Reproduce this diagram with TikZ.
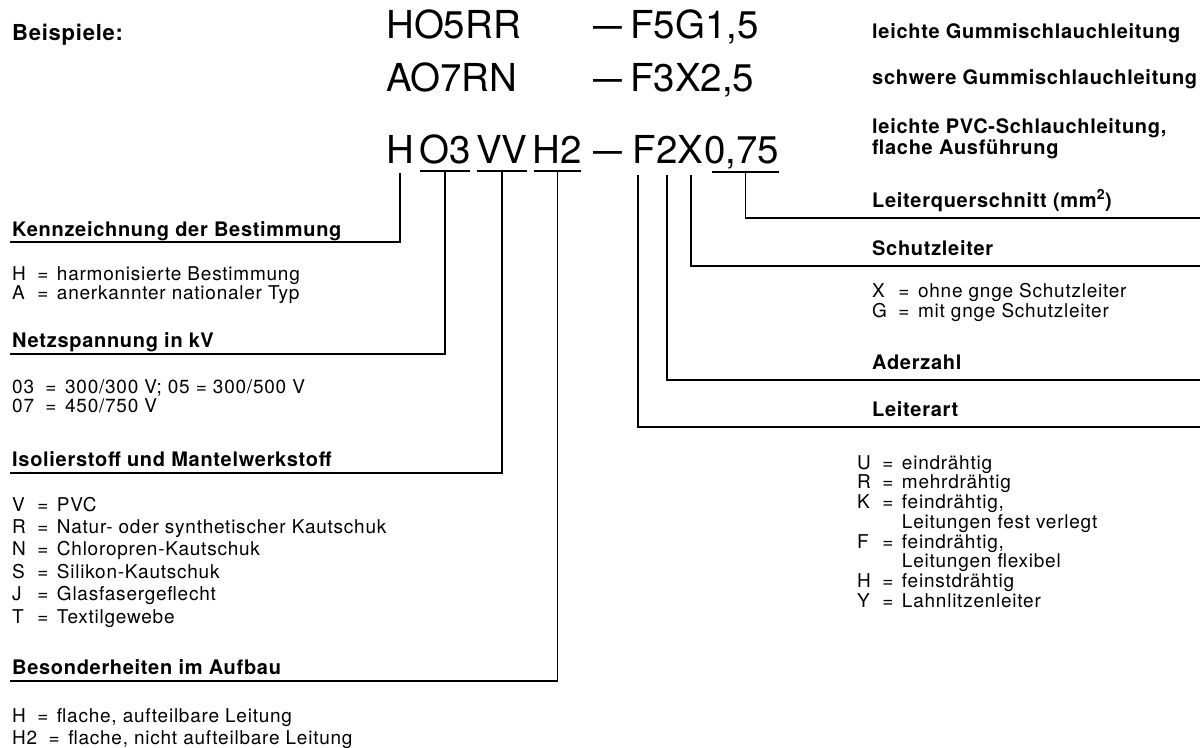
\documentclass[tikz,border=0pt]{standalone}
\usepackage{fontspec}
\usepackage{graphicx}
\setmainfont{TeX Gyre Heros}
\newfontfamily\bodyf[LetterSpace=4]{TeX Gyre Heros}
\newfontfamily\codef{TeX Gyre Heros}
\newfontfamily\headf[LetterSpace=3.5]{TeX Gyre Heros}
\newcommand\dashc{\scalebox{1.35}[1]{\textendash}}
\newcommand\elist[1]{\begin{tabular}[t]{@{}l@{\hspace{0.6em}}l@{\hspace{0.45em}}l@{}}#1\end{tabular}}
\tikzset{
  code/.style={font=\codef\fontsize{38.5}{40}\selectfont, inner sep=0pt, anchor=base west},
  head/.style={font=\headf\bfseries\fontsize{20}{24}\selectfont, inner sep=0pt, anchor=base west},
  title/.style={font=\headf\bfseries\fontsize{22}{26}\selectfont, inner sep=0pt, anchor=base west},
  body/.style={font=\bodyf\fontsize{19}{#1}\selectfont, inner sep=0pt, anchor=base west},
  body/.default=19.6,
  lead/.style={line width=1.8pt, line cap=butt, line join=miter}
}
\begin{document}
\begin{tikzpicture}[x=1pt,y=-1pt]
\useasboundingbox (0,0) rectangle (1204,747);
% examples
\node[title] (beisp) at (12,40) {Beispiele:};
\node[code] (r1a) at (386,38) {HO5RR};
\node[code] (r1d) at (593,38) {\dashc};
\node[code] (r1b) at (630,38) {F5G1,5};
\node[code] (r2a) at (386,91) {AO7RN};
\node[code] (r2d) at (593,91) {\dashc};
\node[code] (r2b) at (630,91) {F3X2,5};
\node[code] (cH) at (386,163) {H};
\node[code] (cO) at ([xshift=5pt]cH.base east) {O3};
\node[code] (cV) at ([xshift=5pt]cO.base east) {VV};
\node[code] (cHz) at ([xshift=5pt]cV.base east) {H2};
\node[code] (c3d) at (593,163) {\dashc};
\node[code] (cF) at (632,163) {F};
\node[code] (cZ) at (cF.base east) {2};
\node[code] (cX) at (cZ.base east) {X};
\node[code] (cN) at (cX.base east) {0,75};
% descriptions right
\node[head] (d1) at (872,38) {leichte Gummischlauchleitung};
\node[head] (d2) at (872,84) {schwere Gummischlauchleitung};
\node[head] (d3) at (872,133) {leichte PVC-Schlauchleitung,};
\node[head] (d3b) at (872,154) {flache Ausführung};
\node[head] (hq) at (872,207) {Leiterquerschnitt (mm\textsuperscript{2})};
\node[head] (hs) at (872,255) {Schutzleiter};
\node[body] (ls) at (872,297) {\elist{X & = & ohne gnge Schutzleiter\\ G & = & mit gnge Schutzleiter}};
\node[head] (ha) at (872,369) {Aderzahl};
\node[head] (hl) at (872,416) {Leiterart};
\node[body] (ll) at (857,469) {\elist{U & = & eindrähtig\\ R & = & mehrdrähtig\\ K & = & feindrähtig,\\ & & Leitungen fest verlegt\\ F & = & feindrähtig,\\ & & Leitungen flexibel\\ H & = & feinstdrähtig\\ Y & = & Lahnlitzenleiter}};
% left
\node[head] (hk) at (12,236) {Kennzeichnung der Bestimmung};
\node[body=17.5] (lk) at (12,280) {\elist{H & = & harmonisierte Bestimmung\\ A & = & anerkannter nationaler Typ}};
\node[head] (hn) at (12,347) {Netzspannung in kV};
\node[body=18] (ln) at (12,393) {\elist{03 & = & 300/300 V; 05 = 300/500 V\\ 07 & = & 450/750 V}};
\node[head] (hi) at (12,466) {Isolierstoff und Mantelwerkstoff};
\node[body=22.4] (li) at (12,511) {\elist{V & = & PVC\\ R & = & Natur- oder synthetischer Kautschuk\\ N & = & Chloropren-Kautschuk\\ S & = & Silikon-Kautschuk\\ J & = & Glasfasergeflecht\\ T & = & Textilgewebe}};
\node[head] (hb) at (12,674) {Besonderheiten im Aufbau};
\node[body=22.5] (lb) at (12,722) {\begin{tabular}[t]{@{}l@{}}H\hspace{0.6em}=\hspace{0.45em}flache, aufteilbare Leitung\\ H2\hspace{0.6em}=\hspace{0.45em}flache, nicht aufteilbare Leitung\end{tabular}};
% line ends on the right
\coordinate (eQ) at (1200,218);
\coordinate (eS) at (1200,266);
\coordinate (eA) at (1200,380);
\coordinate (eL) at (1200,427);
% leaders left
\draw[lead] ([yshift=-10pt]cH.base) |- ([xshift=-2pt,yshift=-6pt]hk.base west);
\draw[lead] ([yshift=-8pt,xshift=1pt]cO.base west) -- ([yshift=-8pt,xshift=-1pt]cO.base east);
\draw[lead] ([yshift=-8pt]cO.base) |- ([xshift=-2pt,yshift=-7pt]hn.base west);
\draw[lead] ([yshift=-8pt,xshift=1pt]cV.base west) -- ([yshift=-8pt,xshift=-1pt]cV.base east);
\draw[lead] ([yshift=-8pt]cV.base) |- ([xshift=-2pt,yshift=-7pt]hi.base west);
\draw[lead] ([yshift=-8pt,xshift=1pt]cHz.base west) -- ([yshift=-8pt,xshift=-1pt]cHz.base east);
\draw[lead] ([yshift=-8pt]cHz.base) |- ([xshift=-2pt,yshift=-7pt]hb.base west);
% leaders right
\draw[lead] ([xshift=6pt,yshift=-12pt]cF.base west) |- (eL);
\draw[lead] ([yshift=-12pt]cZ.base) |- (eA);
\draw[lead] ([yshift=-12pt]cX.base) |- (eS);
\draw[lead] ([xshift=8pt,yshift=-9pt]cN.base west) -- ([yshift=-9pt]cN.base east);
\draw[lead] ([xshift=4pt,yshift=-9pt]cN.base) |- (eQ);
\end{tikzpicture}
\end{document}
